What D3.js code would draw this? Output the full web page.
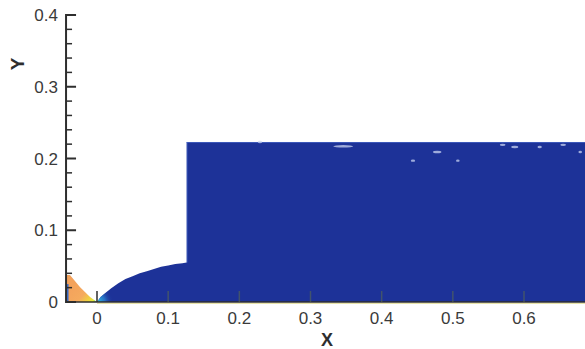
<!DOCTYPE html>
<html>
<head>
<meta charset="utf-8">
<script src="https://cdn.jsdelivr.net/npm/d3@7"></script>
<style>
  html, body { margin: 0; padding: 0; background: #fff; }
  svg { display: block; }
</style>
</head>
<body>
<svg id="chart" width="585" height="349"></svg>
<script>
// ---- data ----
const xTicks = [0, 0.1, 0.2, 0.3, 0.4, 0.5, 0.6];
const xTickLabels = ["0", "0.1", "0.2", "0.3", "0.4", "0.5", "0.6"];
const yTicks = [0, 0.1, 0.2, 0.3, 0.4];
const yTickLabels = ["0", "0.1", "0.2", "0.3", "0.4"];
const yMinorTicks = [0.02,0.04,0.06,0.08,0.12,0.14,0.16,0.18,0.22,0.24,0.26,0.28,0.32,0.34,0.36,0.38];
const xDomainMin = -0.0435, xDomainMax = 0.69;

// body (blue region) contour: lower curved part
const bodyX = [0, 0.005, 0.01, 0.02, 0.03, 0.04, 0.05, 0.06, 0.07, 0.08, 0.09, 0.10, 0.11, 0.12, 0.126];
const bodyY = [0, 0.007, 0.011, 0.019, 0.026, 0.032, 0.036, 0.040, 0.043, 0.046, 0.049, 0.051, 0.053, 0.054, 0.055];
const stepX = 0.126;       // step position
const shockTopY = 0.223;   // top of the rectangular blue region

// orange region (upstream)
const orangeX = [-0.0435, -0.0435, -0.038, -0.024, -0.0098, 0.0];
const orangeY = [0, 0.0376, 0.0376, 0.021, 0.007, 0];

// light specks near the top edge
const speckX = [0.229, 0.346, 0.444, 0.478, 0.507, 0.570, 0.587, 0.622, 0.655, 0.679];
const speckY = [0.223, 0.217, 0.197, 0.209, 0.197, 0.219, 0.216, 0.216, 0.219, 0.209];
const speckW = [0.006, 0.028, 0.006, 0.012, 0.005, 0.008, 0.010, 0.006, 0.008, 0.005];

// ---- scales ----
const x = d3.scaleLinear().domain([0, 0.6]).range([97, 524]);
const y = d3.scaleLinear().domain([0, 0.4]).range([302, 15]);

const svg = d3.select("#chart");
const defs = svg.append("defs");

// orange gradient
const og = defs.append("linearGradient").attr("id", "og")
  .attr("gradientUnits", "userSpaceOnUse")
  .attr("x1", x(-0.03)).attr("y1", y(0.03)).attr("x2", x(0.001)).attr("y2", y(0));
og.selectAll("stop").data([
  [0, "#f3a25c"], [0.5, "#f5aa5e"], [0.72, "#f0d040"], [0.86, "#e8ec3a"], [0.94, "#70c860"], [1, "#30c0e0"]
]).enter().append("stop").attr("offset", d => d[0]).attr("stop-color", d => d[1]);

// cyan glow near origin in the blue region
const rg = defs.append("radialGradient").attr("id", "rg")
  .attr("gradientUnits", "userSpaceOnUse")
  .attr("cx", x(0)).attr("cy", y(0)).attr("r", 16);
rg.selectAll("stop").data([
  [0, "#30c8e8", 1], [0.5, "#2a80d0", 0.8], [1, "#1d339b", 0]
]).enter().append("stop").attr("offset", d => d[0]).attr("stop-color", d => d[1]).attr("stop-opacity", d => d[2]);

// blue region
const bluePts = bodyX.map((d, i) => [d, bodyY[i]])
  .concat([[stepX, shockTopY], [xDomainMax, shockTopY], [xDomainMax, 0], [0, 0]]);
const line = d3.line().x(d => x(d[0])).y(d => y(d[1]));

defs.append("clipPath").attr("id", "blueClip")
  .append("path").attr("d", line(bluePts) + "Z");

svg.append("path").attr("d", line(bluePts) + "Z")
  .attr("fill", "#1d3298");

svg.append("circle").attr("cx", x(0)).attr("cy", y(0)).attr("r", 16)
  .attr("fill", "url(#rg)").attr("clip-path", "url(#blueClip)");

// lighter edge lines of the blue block
svg.append("line")
  .attr("x1", x(stepX)).attr("x2", x(xDomainMax)).attr("y1", y(shockTopY) + 0.5).attr("y2", y(shockTopY) + 0.5)
  .attr("stroke", "#4a6ac8").attr("stroke-width", 1).attr("opacity", 0.7);
svg.append("line")
  .attr("x1", x(stepX) + 0.5).attr("x2", x(stepX) + 0.5).attr("y1", y(shockTopY)).attr("y2", y(bodyY[bodyY.length - 1]))
  .attr("stroke", "#4a6ac8").attr("stroke-width", 1).attr("opacity", 0.6);

// specks
svg.selectAll("ellipse.speck").data(speckX).enter().append("ellipse")
  .attr("class", "speck")
  .attr("cx", d => x(d)).attr("cy", (d, i) => y(speckY[i]))
  .attr("rx", (d, i) => (x(speckW[i]) - x(0)) / 2).attr("ry", 1.2)
  .attr("fill", "#c9d4f2").attr("opacity", 0.75);

// orange region
const orangePts = orangeX.map((d, i) => [d, orangeY[i]]);
svg.append("path").attr("d", line(orangePts) + "Z").attr("fill", "url(#og)");
// thin blue strip along the left edge near bottom
svg.append("rect")
  .attr("x", x(xDomainMin)).attr("y", y(0.025)).attr("width", 2.5).attr("height", y(0) - y(0.025))
  .attr("fill", "#3a6cc8");

// faint yellowish line along the bottom
svg.append("line")
  .attr("x1", x(0)).attr("x2", 585).attr("y1", y(0) + 1.5).attr("y2", y(0) + 1.5)
  .attr("stroke", "#d8d070").attr("stroke-width", 1).attr("opacity", 0.6);

const ink = "#2e2e2e";
const font = "'Liberation Sans', Arial, Helvetica, sans-serif";

// ---- Y axis ----
svg.append("line").attr("x1", x(xDomainMin)).attr("x2", x(xDomainMin))
  .attr("y1", y(0) + 1).attr("y2", y(0.4) - 1)
  .attr("stroke", ink).attr("stroke-width", 2);
svg.selectAll("line.ymaj").data(yTicks).enter().append("line")
  .attr("x1", x(xDomainMin)).attr("x2", x(xDomainMin) + 10)
  .attr("y1", d => y(d)).attr("y2", d => y(d))
  .attr("stroke", ink).attr("stroke-width", 2);
svg.selectAll("line.ymin").data(yMinorTicks).enter().append("line")
  .attr("x1", x(xDomainMin)).attr("x2", x(xDomainMin) + 6)
  .attr("y1", d => y(d)).attr("y2", d => y(d))
  .attr("stroke", ink).attr("stroke-width", 1.5);
svg.selectAll("text.ylab").data(yTicks).enter().append("text")
  .attr("x", 58).attr("y", d => y(d)).attr("dy", "0.36em")
  .attr("text-anchor", "end").attr("font-family", font).attr("font-size", 17)
  .attr("fill", "#3a3a3a").text((d, i) => yTickLabels[i]);

// ---- X axis ----
svg.append("line").attr("x1", x(xDomainMin)).attr("x2", 585)
  .attr("y1", y(0)).attr("y2", y(0))
  .attr("stroke", ink).attr("stroke-width", 1.5);
svg.selectAll("line.xmaj").data(xTicks).enter().append("line")
  .attr("x1", d => x(d)).attr("x2", d => x(d))
  .attr("y1", y(0)).attr("y2", y(0) - 11)
  .attr("stroke", d => d === 0 ? ink : "#5a6a50").attr("stroke-width", 1.5)
  .attr("opacity", d => d === 0 ? 1 : 0.6);
svg.selectAll("text.xlab").data(xTicks).enter().append("text")
  .attr("x", d => x(d)).attr("y", 324)
  .attr("text-anchor", "middle").attr("font-family", font).attr("font-size", 17)
  .attr("fill", "#3a3a3a").text((d, i) => xTickLabels[i]);

// axis titles
svg.append("text").attr("x", 327).attr("y", 346)
  .attr("text-anchor", "middle").attr("font-family", font).attr("font-weight", "bold")
  .attr("font-size", 18).attr("fill", ink).text("X");
svg.append("text").attr("transform", "translate(24,64) rotate(-90)")
  .attr("text-anchor", "middle").attr("font-family", font).attr("font-weight", "bold")
  .attr("font-size", 19).attr("fill", ink).text("Y");
</script>
</body>
</html>
